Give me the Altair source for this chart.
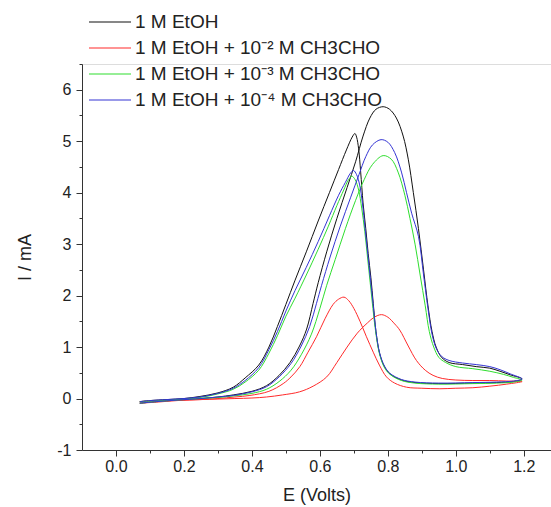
import altair as alt
import pandas as pd

# ---- data ----
SERIES = [
    "1 M EtOH",
    "1 M EtOH + 10⁻² M CH3CHO",
    "1 M EtOH + 10⁻³ M CH3CHO",
    "1 M EtOH + 10⁻⁴ M CH3CHO",
]
COLORS = ["#111111", "#ff2a2a", "#2ede2e", "#3434d4"]

# 1 M EtOH (forward then reverse sweep)
BLACK_E = [0.07, 0.12, 0.18, 0.25, 0.30, 0.345, 0.40, 0.443, 0.48, 0.512, 0.54, 0.561, 0.58, 0.595,
           0.62, 0.65, 0.68, 0.705, 0.727, 0.747, 0.765, 0.786, 0.805, 0.825, 0.845, 0.86, 0.875,
           0.89, 0.905, 0.918, 0.93, 0.942, 0.958, 0.98, 1.02, 1.06, 1.10, 1.13, 1.16, 1.195,
           1.17, 1.12, 1.05, 0.95, 0.88, 0.84, 0.806, 0.79, 0.776, 0.765, 0.757, 0.75, 0.742,
           0.735, 0.727, 0.72, 0.714, 0.708, 0.703, 0.695, 0.678, 0.655, 0.628, 0.595, 0.56,
           0.527, 0.50, 0.475, 0.45, 0.42, 0.38, 0.345, 0.30, 0.247, 0.20, 0.15, 0.10, 0.07]
BLACK_I = [-0.09, -0.06, -0.03, 0.0, 0.03, 0.07, 0.14, 0.25, 0.45, 0.70, 1.02, 1.35, 1.85, 2.25,
           2.85, 3.5, 4.1, 4.6, 5.1, 5.45, 5.62, 5.67, 5.62, 5.45, 5.1, 4.65, 4.0,
           3.3, 2.5, 1.8, 1.3, 1.0, 0.8, 0.7, 0.66, 0.62, 0.59, 0.53, 0.46, 0.38,
           0.33, 0.31, 0.30, 0.29, 0.31, 0.36, 0.48, 0.62, 0.87, 1.3, 1.85, 2.35, 2.82,
           3.3, 3.8, 4.4, 4.85, 5.08, 5.15, 5.08, 4.83, 4.45, 4.0, 3.45, 2.85,
           2.3, 1.83, 1.4, 1.0, 0.65, 0.4, 0.22, 0.11, 0.04, 0.0, -0.02, -0.04, -0.06]

# 1 M EtOH + 1e-2 M CH3CHO
RED_E = [0.07, 0.12, 0.18, 0.25, 0.30, 0.35, 0.40, 0.443, 0.49, 0.54, 0.58, 0.62, 0.65, 0.68,
         0.71, 0.74, 0.76, 0.781, 0.80, 0.82, 0.835, 0.86, 0.884, 0.91, 0.933, 0.96, 1.0, 1.05,
         1.10, 1.15, 1.195,
         1.15, 1.10, 1.05, 1.0, 0.953, 0.90, 0.855, 0.82, 0.796, 0.775, 0.757, 0.737, 0.718,
         0.70, 0.685, 0.671, 0.655, 0.639, 0.615, 0.59, 0.565, 0.541, 0.515, 0.492, 0.45,
         0.394, 0.35, 0.30, 0.25, 0.20, 0.15, 0.10, 0.07]
RED_I = [-0.09, -0.07, -0.04, -0.02, -0.01, 0.0, 0.01, 0.03, 0.07, 0.13, 0.24, 0.42, 0.7, 1.0,
         1.27, 1.47, 1.58, 1.63, 1.58, 1.45, 1.33, 1.02, 0.74, 0.55, 0.45, 0.39, 0.36, 0.35,
         0.35, 0.34, 0.33,
         0.28, 0.24, 0.21, 0.20, 0.19, 0.20, 0.22, 0.30, 0.42, 0.65, 0.9, 1.2, 1.5,
         1.75, 1.9, 1.97, 1.93, 1.83, 1.55, 1.2, 0.9, 0.62, 0.42, 0.29, 0.14,
         0.06, 0.03, 0.0, -0.02, -0.03, -0.04, -0.05, -0.06]

# 1 M EtOH + 1e-3 M CH3CHO
GREEN_E = [0.07, 0.12, 0.18, 0.25, 0.30, 0.345, 0.40, 0.443, 0.48, 0.515, 0.545, 0.575, 0.60,
           0.62, 0.645, 0.675, 0.705, 0.73, 0.755, 0.786, 0.81, 0.83, 0.85, 0.865, 0.88, 0.895,
           0.91, 0.922, 0.935, 0.95, 0.97, 1.0, 1.05, 1.10, 1.14, 1.17, 1.195,
           1.17, 1.12, 1.05, 0.95, 0.88, 0.84, 0.806, 0.79, 0.776, 0.765, 0.756, 0.748, 0.740,
           0.732, 0.723, 0.714, 0.704, 0.694, 0.684, 0.67, 0.65, 0.625, 0.595, 0.56, 0.527,
           0.50, 0.475, 0.45, 0.42, 0.38, 0.345, 0.30, 0.247, 0.20, 0.15, 0.10, 0.07]
GREEN_I = [-0.09, -0.06, -0.03, 0.0, 0.02, 0.05, 0.1, 0.18, 0.33, 0.55, 0.85, 1.25, 1.75,
           2.2, 2.7, 3.3, 3.85, 4.25, 4.55, 4.72, 4.65, 4.4, 3.95, 3.5, 3.0, 2.4,
           1.8, 1.3, 1.0, 0.8, 0.7, 0.62, 0.58, 0.53, 0.47, 0.41, 0.36,
           0.32, 0.30, 0.29, 0.28, 0.30, 0.35, 0.47, 0.6, 0.85, 1.25, 1.75, 2.25, 2.75,
           3.25, 3.7, 4.05, 4.25, 4.32, 4.25, 4.05, 3.75, 3.35, 2.9, 2.4, 1.95,
           1.6, 1.22, 0.88, 0.55, 0.32, 0.18, 0.09, 0.02, -0.01, -0.03, -0.05, -0.06]

# 1 M EtOH + 1e-4 M CH3CHO
BLUE_E = [0.07, 0.12, 0.18, 0.25, 0.30, 0.345, 0.40, 0.443, 0.48, 0.515, 0.545, 0.57, 0.59,
          0.605, 0.63, 0.66, 0.69, 0.715, 0.735, 0.755, 0.78, 0.80, 0.82, 0.84, 0.855, 0.87,
          0.89, 0.905, 0.918, 0.93, 0.942, 0.958, 0.98, 1.02, 1.06, 1.10, 1.13, 1.16, 1.195,
          1.17, 1.12, 1.05, 0.95, 0.88, 0.84, 0.806, 0.79, 0.776, 0.765, 0.757, 0.749, 0.741,
          0.733, 0.725, 0.717, 0.708, 0.699, 0.69, 0.675, 0.655, 0.628, 0.595, 0.56, 0.527,
          0.50, 0.475, 0.45, 0.42, 0.38, 0.345, 0.30, 0.247, 0.20, 0.15, 0.10, 0.07]
BLUE_I = [-0.09, -0.06, -0.03, 0.0, 0.03, 0.06, 0.13, 0.23, 0.42, 0.68, 1.02, 1.4, 1.85,
          2.2, 2.75, 3.35, 3.9, 4.35, 4.7, 4.93, 5.03, 4.98, 4.78, 4.4, 4.0, 3.6,
          3.15, 2.4, 1.75, 1.25, 0.98, 0.82, 0.74, 0.69, 0.66, 0.62, 0.56, 0.48, 0.38,
          0.34, 0.32, 0.31, 0.30, 0.32, 0.37, 0.49, 0.63, 0.88, 1.3, 1.8, 2.3, 2.8,
          3.3, 3.8, 4.15, 4.35, 4.43, 4.38, 4.2, 3.95, 3.55, 3.05, 2.55, 2.1,
          1.7, 1.3, 0.95, 0.6, 0.35, 0.2, 0.1, 0.03, 0.0, -0.02, -0.04, -0.06]

X_DOMAIN = [-0.1, 1.28]
Y_DOMAIN = [-1, 6.5]
X_TICKS = [round(0.1 * i, 1) for i in range(13)]
Y_TICKS = [-1 + 0.5 * i for i in range(16)]

# ---- build table ----
rows = []
for name, es, cs in zip(SERIES, [BLACK_E, RED_E, GREEN_E, BLUE_E], [BLACK_I, RED_I, GREEN_I, BLUE_I]):
    for k, (e, c) in enumerate(zip(es, cs)):
        rows.append({"series": name, "E": e, "I": c, "idx": k})
df = pd.DataFrame(rows)

FONT = "Liberation Sans"

chart = alt.Chart(df).mark_line(strokeWidth=1, interpolate="catmull-rom").encode(
    x=alt.X("E:Q", scale=alt.Scale(domain=X_DOMAIN, nice=False, zero=False),
            axis=alt.Axis(values=X_TICKS, title="E (Volts)", grid=False,
                          labelExpr="round(datum.value*10) % 2 == 0 ? format(datum.value, '.1f') : ''",
                          tickSize={"condition": {"test": "round(datum.value*10) % 2 != 0", "value": 3}, "value": 6},
                          labelFontSize=16, labelFont=FONT, labelColor="#222222", labelPadding=2,
                          titleFont=FONT, titleFontSize=18, titleFontWeight="normal", titleColor="#222222",
                          titlePadding=12, domainColor="#333333", tickColor="#333333",
                          labelFlush=False, labelOverlap=False)),
    y=alt.Y("I:Q", scale=alt.Scale(domain=Y_DOMAIN, nice=False, zero=False),
            axis=alt.Axis(values=Y_TICKS, title="I / mA", grid=False,
                          labelExpr="datum.value % 1 == 0 ? '' + datum.value : ''",
                          tickSize={"condition": {"test": "datum.value % 1 != 0", "value": 3}, "value": 6},
                          labelFontSize=16, labelFont=FONT, labelColor="#222222", labelPadding=5,
                          titleFont=FONT, titleFontSize=18, titleFontWeight="normal", titleColor="#222222",
                          titlePadding=22, domainColor="#333333", tickColor="#333333",
                          labelFlush=False, labelOverlap=False)),
    color=alt.Color("series:N", scale=alt.Scale(domain=SERIES, range=COLORS), sort=SERIES,
                    legend=alt.Legend(title=None, orient="none", legendX=17, legendY=-53,
                                      symbolType="M-2.1,0H2.1", symbolSize=400, symbolStrokeWidth=1.2,
                                      symbolFillColor="transparent",
                                      labelFont=FONT, labelFontSize=19, labelColor="#222222",
                                      labelLimit=500, labelOffset=14, rowPadding=5)),
    order=alt.Order("idx:Q"),
).properties(
    width=469, height=386,
    padding={"left": 82, "top": 64, "right": 0, "bottom": 57},
    autosize="none",
).configure_view(stroke=None).configure(background="white")

chart.save("out.html", embed_options={"renderer": "svg", "actions": False})
